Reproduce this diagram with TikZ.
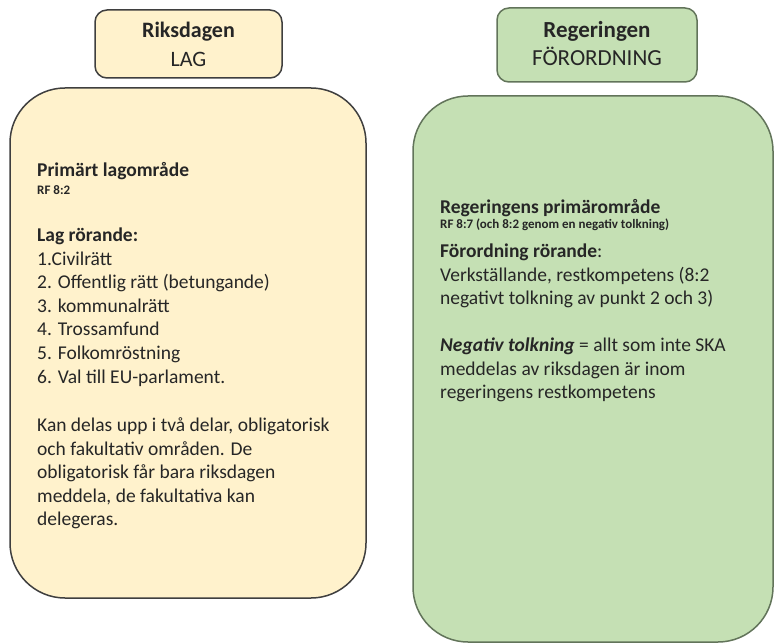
\documentclass[tikz,border=0pt]{standalone}
\usepackage{fontspec}
\setmainfont{Carlito}
\definecolor{yfill}{HTML}{FFF2CC}
\definecolor{gfill}{HTML}{C5E0B4}
\definecolor{yline}{HTML}{3F3F3F}
\definecolor{gline}{HTML}{62745A}
\definecolor{txt}{HTML}{262626}
\begin{document}
\begin{tikzpicture}[x=1pt,y=-1pt,
  smallbox/.style={draw, line width=1.5pt, rounded corners=12pt, inner sep=0pt},
  bigbox/.style={draw, line width=1.5pt, rounded corners=55pt, inner sep=0pt},
  ln/.style={anchor=base west, inner sep=0pt, text=txt, font=\fontsize{19.5}{23}\selectfont},
  lnb/.style={ln, font=\fontsize{19.5}{23}\selectfont\bfseries},
  sm/.style={anchor=base west, inner sep=0pt, text=txt, font=\fontsize{13}{16}\selectfont\bfseries},
  hd/.style={anchor=base, inner sep=0pt, text=txt, font=\fontsize{22}{26}\selectfont},
  hdg/.style={anchor=base, inner sep=0pt, text=txt, font=\fontsize{23}{27}\selectfont}]
\useasboundingbox (0,0) rectangle (774,644);
% boxes
\node[smallbox, fill=yfill, draw=yline, minimum width=187pt, minimum height=68pt] (rt) at (188.5,44) {};
\node[smallbox, fill=gfill, draw=gline, minimum width=200pt, minimum height=74pt] (gt) at (597,45) {};
\node[bigbox, fill=yfill, draw=yline, minimum width=356pt, minimum height=510pt] (rb) at (188,343) {};
\node[bigbox, fill=gfill, draw=gline, minimum width=360pt, minimum height=546pt] (gb) at (593,369) {};
% top titles
\node[hd, font=\fontsize{22}{26}\selectfont\bfseries] (rt1) at (188.5,37.5) {Riksdagen};
\node[hd] (rt2) at (188.5,66.5) {LAG};
\node[hdg, font=\fontsize{23}{27}\selectfont\bfseries] (gt1) at (597,37.5) {Regeringen};
\node[hdg] (gt2) at (597,66) {FÖRORDNING};
% left text
\node[lnb] (l1) at (37,176.7) {Primärt lagområde};
\node[sm] (l2) at (37,195) {RF 8:2};
\node[lnb] (l3) at (37,241.7) {Lag rörande:};
\node[ln] (l4) at (37,265.5) {1.Civilrätt};
\node[ln] (l5) at (37,289) {2. Offentlig rätt (betungande)};
\node[ln] (l6) at (37,312.5) {3. kommunalrätt};
\node[ln] (l7) at (37,336) {4. Trossamfund};
\node[ln] (l8) at (37,359.5) {5. Folkomröstning};
\node[ln] (l9) at (37,383) {6. Val till EU-parlament.};
\node[ln] (l10) at (37,431.5) {Kan delas upp i två delar, obligatorisk};
\node[ln] (l11) at (37,455) {och fakultativ områden. De};
\node[ln] (l12) at (37,478.5) {obligatorisk får bara riksdagen};
\node[ln] (l13) at (37,502) {meddela, de fakultativa kan};
\node[ln] (l14) at (37,525.5) {delegeras.};
% right text
\node[lnb] (r1) at (440,214) {Regeringens primärområde};
\node[sm] (r2) at (440,229) {RF 8:7 (och 8:2 genom en negativ tolkning)};
\node[ln] (r3) at (440,258) {\textbf{Förordning rörande}:};
\node[ln] (r4) at (440,281.5) {Verkställande, restkompetens (8:2};
\node[ln] (r5) at (440,305) {negativt tolkning av punkt 2 och 3)};
\node[ln] (r6) at (440,352) {\textbf{\textit{Negativ tolkning}} = allt som inte SKA};
\node[ln] (r7) at (440,375.5) {meddelas av riksdagen är inom};
\node[ln] (r8) at (440,399) {regeringens restkompetens};
\end{tikzpicture}
\end{document}
